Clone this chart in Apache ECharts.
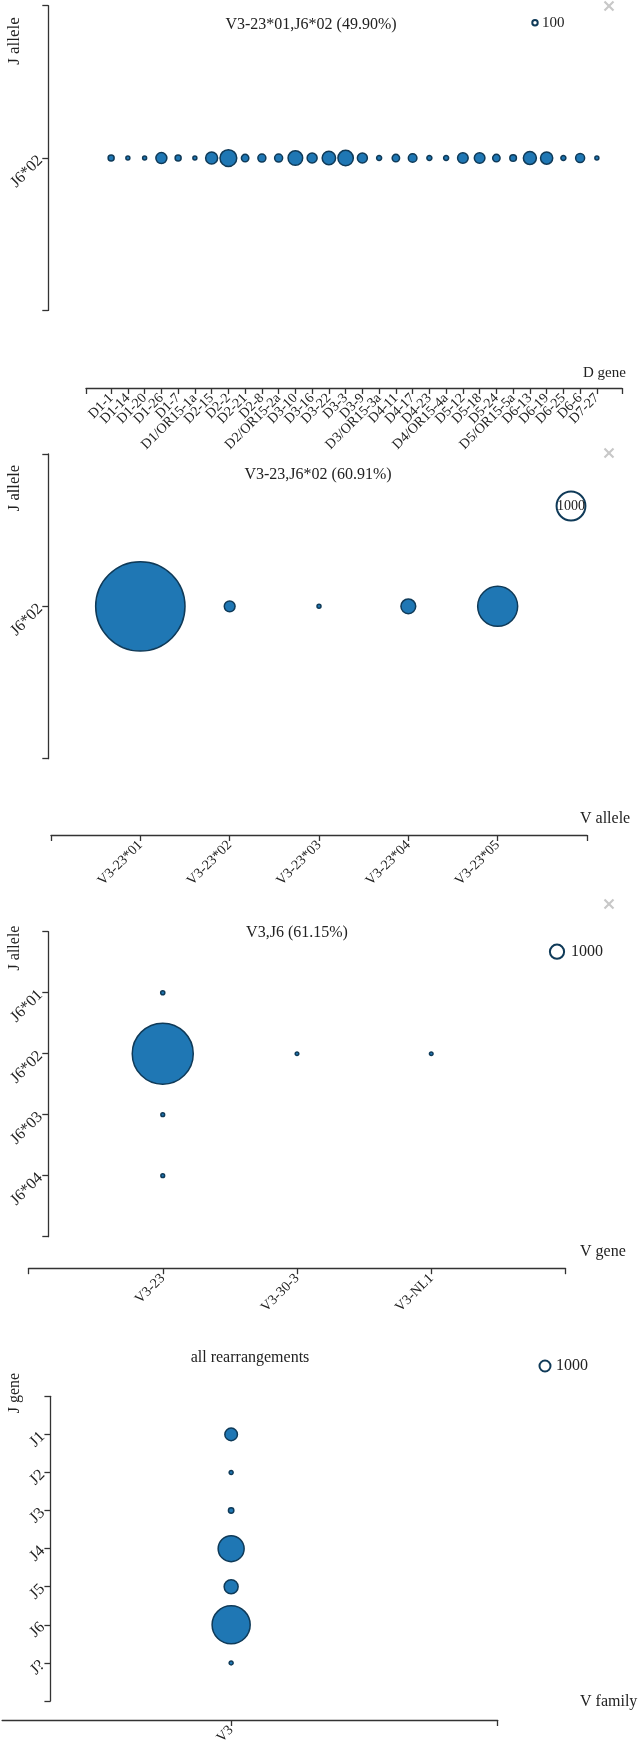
<!DOCTYPE html>
<html>
<head>
<meta charset="utf-8">
<script src="https://cdn.jsdelivr.net/npm/echarts@6/dist/echarts.min.js"></script>
<style>
  html, body { margin: 0; padding: 0; background: #fff; }
  #main { width: 638px; height: 1750px; }
</style>
</head>
<body>
<div id="main"></div>
<script>
// panel 1: D gene usage for V3-23*01 / J6*02
const dGenes = ['D1-1','D1-14','D1-20','D1-26','D1-7','D1/OR15-1a','D2-15','D2-2','D2-21','D2-8',
  'D2/OR15-2a','D3-10','D3-16','D3-22','D3-3','D3-9','D3/OR15-3a','D4-11','D4-17','D4-23',
  'D4/OR15-4a','D5-12','D5-18','D5-24','D5/OR15-5a','D6-13','D6-19','D6-25','D6-6','D7-27']
const dCounts = [122,54,54,410,122,54,488,950,186,217,
  217,722,339,608,803,339,85,186,250,85,
  85,381,381,186,148,572,504,85,274,54]
const j602 = ['J6*02']

// panel 2: V3-23 alleles with J6*02
const vAlleles = ['V3-23*01','V3-23*02','V3-23*03','V3-23*04','V3-23*05']
const alleleCounts = [9600,140,19,263,1922]

// panel 3: V3 genes x J6 alleles
const vGenes = ['V3-23','V3-30-3','V3-NL1']
const j6Alleles = ['J6*01','J6*02','J6*03','J6*04']
const vjCounts = [
  ['V3-23','J6*01',85],
  ['V3-23','J6*02',18500],
  ['V3-23','J6*03',70],
  ['V3-23','J6*04',70],
  ['V3-30-3','J6*02',65],
  ['V3-NL1','J6*02',65]
]

// panel 4: all rearrangements
const vFamilies = ['V3']
const jGenes = ['J1','J2','J3','J4','J5','J6','J?']
const jCounts = [1312,132,241,5588,1620,12000,132]

const FONT = 'Liberation Serif'
const FILL = '#1f77b4'
const EDGE = '#0f3a58'
const AXIS = '#333'
const TEXT = '#222'

const panels = [
  {
    title: 'V3-23*01,J6*02 (49.90%)', titleX: 311, titleY: 25,
    grid: { left: 86, top: 5.7, width: 536, height: 304.7 },
    xCats: dGenes, yCats: j602, xPad: 1.5, yPad: 1, xOff: 77.6, yOff: 37.7,
    data: dCounts.map((c, i) => [i, 0, c]),
    legendVal: 100, legendCx: 535, legendCy: 22.7, legendTextX: 542, legendSize: 15,
    xName: 'D gene', xNameX: 583, xNameY: 373, xNameSize: 15,
    yName: 'J allele', yNameY: 41, yNameSize: 17, closeY: 6
  },
  {
    title: 'V3-23,J6*02 (60.91%)', titleX: 318, titleY: 475,
    grid: { left: 51, top: 454, width: 536, height: 304.7 },
    xCats: vAlleles, yCats: j602, xPad: 1, yPad: 1, xOff: 76.3, yOff: 2.7,
    data: alleleCounts.map((c, i) => [i, 0, c]),
    legendVal: 1000, legendCx: 571, legendCy: 506, legendTextX: null, legendSize: 14,
    xName: 'V allele', xNameX: 580, xNameY: 819, xNameSize: 16,
    yName: 'J allele', yNameY: 488, yNameSize: 16.5, closeY: 453
  },
  {
    title: 'V3,J6 (61.15%)', titleX: 297, titleY: 933,
    grid: { left: 28.5, top: 931.7, width: 537, height: 305 },
    xCats: vGenes, yCats: j6Alleles, xPad: 1, yPad: 1, xOff: 31.5, yOff: -19.8,
    data: vjCounts.map(r => [vGenes.indexOf(r[0]), j6Alleles.indexOf(r[1]), r[2]]),
    legendVal: 1000, legendCx: 557, legendCy: 951.7, legendTextX: 571, legendSize: 16,
    xName: 'V gene', xNameX: 580, xNameY: 1251.7, xNameSize: 16,
    yName: 'J allele', yNameY: 948, yNameSize: 16, closeY: 904
  },
  {
    title: 'all rearrangements', titleX: 250, titleY: 1358,
    grid: { left: -37.7, top: 1396.3, width: 535.4, height: 304.7 },
    xCats: vFamilies, yCats: jGenes, xPad: 1, yPad: 1, xOff: 19, yOff: -86,
    data: jCounts.map((c, i) => [0, i, c]),
    legendVal: 1000, legendCx: 545, legendCy: 1366, legendTextX: 556, legendSize: 16,
    xName: 'V family', xNameX: 580, xNameY: 1702, xNameSize: 16,
    yName: 'J gene', yNameY: 1393, yNameSize: 16, closeY: null
  }
]

function range(n) { return Array.from({ length: n }, (_, i) => i) }

// point-scale style axis: categories at 0..n-1, padded by `pad` steps,
// `cut` steps hidden off the left edge of the page
function makeAxis(cats, pad, gi, offset, isX, cut) {
  const n = cats.length
  const lo = -pad + cut, hi = n - 1 + pad
  const ends = cut > 0 ? [hi] : [lo, hi]
  return {
    type: 'value',
    gridIndex: gi,
    min: lo,
    max: hi,
    inverse: !isX,
    offset: offset,
    splitLine: { show: false },
    axisLine: { show: true, onZero: false, lineStyle: { color: AXIS, width: 1.3 } },
    axisTick: { show: true, length: 6, lineStyle: { color: AXIS, width: 1.3 },
      customValues: ends.concat(range(n)) },
    axisLabel: {
      // blank labels at both ends so no real label is treated as min/max and dropped
      customValues: [lo].concat(range(n), [hi]),
      showMinLabel: true, showMaxLabel: true, hideOverlap: false,
      formatter: v => (Number.isInteger(v) && cats[v]) || '',
      rotate: 45, margin: 8,
      fontFamily: FONT, fontSize: isX ? 14 : 16, color: TEXT
    }
  }
}

const grids = [], xAxes = [], yAxes = [], series = [], titles = [], graphics = []

panels.forEach((p, gi) => {
  const stepX = p.grid.width / (p.xCats.length - 1 + 2 * p.xPad)
  const stepY = p.grid.height / (p.yCats.length - 1 + 2 * p.yPad)
  const maxR = Math.min(stepX, stepY) / 2
  const maxCount = Math.max(...p.data.map(d => d[2]))

  // ECharts keeps grids inside the page, so trim a negative left edge
  const g = Object.assign({}, p.grid)
  let cut = 0
  if (g.left < 0) {
    cut = -g.left / stepX
    g.width += g.left
    g.left = 0
  }
  grids.push(g)
  xAxes.push(makeAxis(p.xCats, p.xPad, gi, p.xOff, true, cut))
  yAxes.push(makeAxis(p.yCats, p.yPad, gi, p.yOff + (g.left - p.grid.left), false, 0))

  series.push({
    type: 'scatter',
    xAxisIndex: gi, yAxisIndex: gi,
    data: p.data,
    symbol: 'circle',
    symbolSize: d => 2 * maxR * Math.sqrt(d[2] / maxCount),
    itemStyle: { color: FILL, borderColor: EDGE, borderWidth: 1.5, opacity: 1 },
    clip: false
  })

  titles.push({
    text: p.title, left: p.titleX, top: p.titleY,
    textAlign: 'center', textVerticalAlign: 'middle', padding: 0,
    textStyle: { fontFamily: FONT, fontSize: 16, fontWeight: 'normal', color: TEXT }
  })

  // size legend
  const lr = maxR * Math.sqrt(p.legendVal / maxCount)
  graphics.push({
    type: 'circle', shape: { cx: p.legendCx, cy: p.legendCy, r: lr },
    style: { fill: '#fff', stroke: EDGE, lineWidth: 2 }
  })
  const centered = p.legendTextX === null
  graphics.push({
    type: 'text', x: centered ? p.legendCx : p.legendTextX, y: p.legendCy,
    style: { text: String(p.legendVal), font: p.legendSize + 'px "' + FONT + '"', fill: TEXT,
      align: centered ? 'center' : 'left', textAlign: centered ? 'center' : 'left',
      verticalAlign: 'middle', textVerticalAlign: 'middle' }
  })

  // axis names
  graphics.push({
    type: 'text', x: p.xNameX, y: p.xNameY,
    style: { text: p.xName, font: p.xNameSize + 'px "' + FONT + '"', fill: TEXT,
      align: 'left', textAlign: 'left', verticalAlign: 'middle', textVerticalAlign: 'middle' }
  })
  graphics.push({
    type: 'text', x: 15, y: p.yNameY, rotation: Math.PI / 2,
    style: { text: p.yName, font: p.yNameSize + 'px "' + FONT + '"', fill: TEXT,
      align: 'center', textAlign: 'center', verticalAlign: 'middle', textVerticalAlign: 'middle' }
  })

  // close button
  if (p.closeY !== null) {
    const cx = 609, cy = p.closeY, h = 4.5
    graphics.push({ type: 'line', shape: { x1: cx - h, y1: cy - h, x2: cx + h, y2: cy + h },
      style: { stroke: '#c8c8c8', lineWidth: 2.2 } })
    graphics.push({ type: 'line', shape: { x1: cx - h, y1: cy + h, x2: cx + h, y2: cy - h },
      style: { stroke: '#c8c8c8', lineWidth: 2.2 } })
  }
})

const chart = echarts.init(document.getElementById('main'), null, { renderer: 'canvas' })
chart.setOption({
  backgroundColor: '#fff',
  animation: false,
  title: titles,
  grid: grids,
  xAxis: xAxes,
  yAxis: yAxes,
  series: series,
  graphic: { elements: graphics }
})
</script>
</body>
</html>
